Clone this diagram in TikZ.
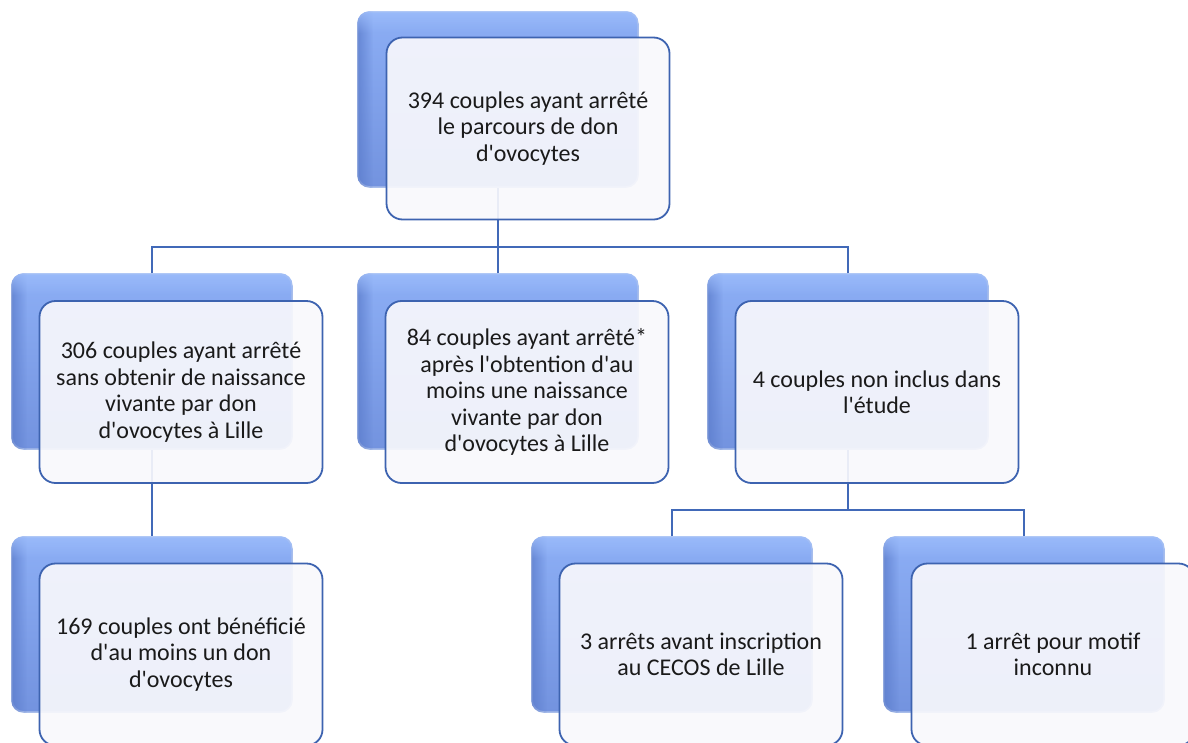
\documentclass[tikz,border=0pt]{standalone}
\usepackage{fontspec}
\setmainfont{Carlito}
\newfontfamily\calib{Carlito}
\usetikzlibrary{fadings,calc}
\definecolor{backtop}{HTML}{8CAEF5}
\definecolor{backbot}{HTML}{7393DF}
\definecolor{backdark}{HTML}{5A7BCB}
\definecolor{backlight}{HTML}{9DBDFB}
\definecolor{backedge}{HTML}{A9BEEA}
\definecolor{frontfill}{HTML}{F8F8FC}
\definecolor{frontline}{HTML}{3D63B0}
\definecolor{conn}{HTML}{4169B8}
\definecolor{txt}{HTML}{1A1A1A}
\tikzfading[name=fadeleft, left color=transparent!25, right color=transparent!100]
\tikzfading[name=fadedown, top color=transparent!20, bottom color=transparent!100]
\tikzset{
  backbox/.style={minimum width=280pt, minimum height=175pt, rounded corners=12pt,
    top color=backtop, bottom color=backbot, draw=backedge, line width=1.5pt, inner sep=0pt},
  frontbox/.style={minimum width=283pt, minimum height=182pt, rounded corners=16pt,
    draw=frontline, line width=1.8pt, fill=frontfill, fill opacity=0.92, text opacity=1,
    align=center, text=txt, font=\calib\fontsize{24}{26.5}\selectfont, inner sep=4pt},
  conn/.style={draw=conn, line width=2.2pt}
}
\newcommand{\backpair}[3]{%
  \node[backbox] (#1) at (#2,#3) {};
  \begin{scope}
    \clip[rounded corners=12pt] (#1.south west) rectangle (#1.north east);
    \fill[backdark, path fading=fadeleft] (#1.south west) rectangle ($(#1.north west)+(16,0)$);
    \fill[backlight, path fading=fadedown] ($(#1.north west)$) rectangle ($(#1.north east)+(0,-22)$);
  \end{scope}}
\begin{document}
\begin{tikzpicture}[x=1pt,y=1pt]
\useasboundingbox (0,0) rectangle (1188,-742);
% back boxes
\backpair{rootb}{498}{-99.5}
\backpair{lb}{152}{-361.5}
\backpair{mb}{498}{-361.5}
\backpair{rb}{848}{-361.5}
\backpair{llb}{152}{-624.5}
\backpair{b1b}{672}{-624.5}
\backpair{b2b}{1024}{-624.5}
% connectors
\coordinate (j1) at ($(rootb.south)+(0,-59)$);
\coordinate (j2) at ($(rb.south)+(0,-60)$);
\draw[conn] (rootb.south) -- (j1);
\draw[conn] (lb.north) |- (j1);
\draw[conn] (rb.north) |- (j1);
\draw[conn] (mb.north) -- (mb.north |- j1);
\draw[conn] (lb.south) -- (llb.north);
\draw[conn] (rb.south) -- (j2);
\draw[conn] (b1b.north) |- (j2);
\draw[conn] (b2b.north) |- (j2);
% front boxes
\node[frontbox] (root) at (528,-128.5) {394 couples ayant arrêté\\le parcours de don\\d'ovocytes};
\node[frontbox] (l) at (181,-392) {306 couples ayant arrêté\\sans obtenir de naissance\\vivante par don\\d'ovocytes à Lille};
\node[frontbox] (m) at (527,-392) {84 couples ayant arrêté*\\après l'obtention d'au\\moins une naissance\\vivante par don\\d'ovocytes à Lille};
\node[frontbox] (r) at (877,-392) {4 couples non inclus dans\\l'étude};
\node[frontbox] (ll) at (181,-654.5) {169 couples ont bénéficié\\d'au moins un don\\d'ovocytes};
\node[frontbox] (b1) at (701,-654.5) {3 arrêts avant inscription\\au CECOS de Lille};
\node[frontbox] (b2) at (1053,-654.5) {1 arrêt pour motif\\inconnu};
\end{tikzpicture}
\end{document}
